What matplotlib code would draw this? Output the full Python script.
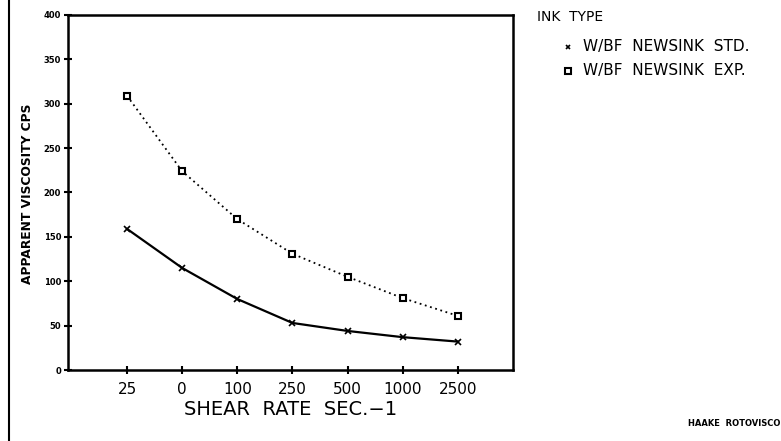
import matplotlib
matplotlib.use("Agg")
import matplotlib.pyplot as plt
from matplotlib.lines import Line2D

categories = ["25", "0", "100", "250", "500", "1000", "2500"]
std_values = [159, 115, 80, 53, 44, 37, 32]
exp_values = [309, 224, 170, 131, 105, 81, 61]
y_ticks = [0, 50, 100, 150, 200, 250, 300, 350, 400]

fig = plt.figure(figsize=(7.81, 4.41), dpi=100)
ax = fig.add_axes([68/781, 1 - 370/441, (513-68)/781, (370-15)/441])

x = list(range(len(categories)))
ax.plot(x, std_values, color="black", lw=1.6, marker="x", ms=4, mew=1.2)
ax.plot(x, exp_values, color="black", lw=1.3, ls=(0, (1, 2)), marker="s",
        ms=5, mfc="white", mec="black", mew=1.5)

ax.set_xlim(-1.07, 7)
ax.set_ylim(0, 400)
ax.set_xticks(x)
ax.set_xticklabels(categories, fontsize=11, family="DejaVu Sans")
ax.set_yticks(y_ticks)
ax.set_yticklabels([str(v) for v in y_ticks], fontsize=6, fontweight="bold")
for s in ax.spines.values():
    s.set_linewidth(1.8)
ax.tick_params(axis="x", direction="inout", length=6, width=1.5, pad=6)
ax.tick_params(axis="y", direction="inout", length=6, width=1.5, pad=2)

ax.set_xlabel("SHEAR  RATE  SEC.\u22121", fontsize=14, labelpad=2)
fig.text(28/781, 1 - 194/441, "APPARENT VISCOSITY CPS", rotation=90,
         fontsize=8.8, fontweight="bold", family="DejaVu Sans Condensed",
         ha="center", va="center")

# legend
fig.text(537/781, 1 - 17/441, "INK  TYPE", fontsize=10,
         ha="left", va="center")
fig.add_artist(Line2D([568/781], [1 - 47/441], marker="x", color="black",
                      ms=3.5, mew=1.2, transform=fig.transFigure))
fig.add_artist(Line2D([568/781], [1 - 71/441], marker="s", mfc="white",
                      mec="black", ms=4.5, mew=1.5, transform=fig.transFigure))
fig.text(583/781, 1 - 46/441, "W/BF  NEWSINK  STD.", fontsize=11,
         ha="left", va="center")
fig.text(583/781, 1 - 70/441, "W/BF  NEWSINK  EXP.", fontsize=11,
         ha="left", va="center")

fig.text(734/781, 1 - 424/441, "HAAKE  ROTOVISCO", fontsize=6,
         fontweight="bold", family="DejaVu Sans Condensed",
         ha="center", va="center")

# scan edge line on left
fig.add_artist(Line2D([9/781, 9/781], [0, 1], color="black", lw=1.5,
                      transform=fig.transFigure))

fig.savefig("out.png", dpi=100)
